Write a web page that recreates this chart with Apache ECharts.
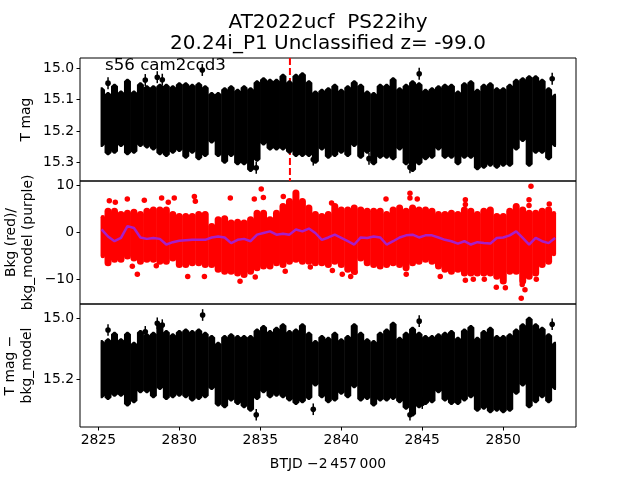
<!DOCTYPE html>
<html>
<head>
<meta charset="utf-8">
<style>html,body{margin:0;background:#fff}#chart{width:640px;height:480px}</style>
<script src="https://cdn.jsdelivr.net/npm/echarts@6/dist/echarts.min.js"></script>
</head>
<body>
<div id="chart"></div>
<script>
// the light curves hold thousands of overlapping points, so each panel is read off as an
// upper and lower edge per time bin, plus the stragglers that stand clear of the band
const times = [2825.2,2825.6,2826,2826.4,2826.8,2827.2,2827.6,2828,2828.4,2828.8,2829.2,2829.6,2830,2830.4,2830.8,2831.2,2831.6,2832,2832.4,2832.8,2833.2,2833.6,2834,2834.4,2834.8,2835.2,2835.6,2836,2836.4,2836.8,2837.2,2837.6,2838,2838.4,2838.8,2839.2,2839.6,2840,2840.4,2840.8,2841.2,2841.6,2842,2842.4,2842.8,2843.2,2843.6,2844,2844.4,2844.8,2845.2,2845.6,2846,2846.4,2846.8,2847.2,2847.6,2848,2848.4,2848.8,2849.2,2849.6,2850,2850.4,2850.8,2851.2,2851.6,2852,2852.4,2852.8,2853.2]

const magTop = [15.061,15.076,15.05,15.071,15.034,15.071,15.045,15.055,15.055,15.05,15.05,15.055,15.045,15.045,15.05,15.045,15.055,15.076,15.076,15.061,15.055,15.066,15.055,15.061,15.039,15.029,15.034,15.034,15.018,15.039,15.018,15.013,15.039,15.071,15.066,15.061,15.05,15.066,15.055,15.039,15.05,15.071,15.076,15.05,15.05,15.029,15.061,15.05,15.039,15.045,15.066,15.061,15.055,15.05,15.05,15.071,15.045,15.039,15.066,15.05,15.045,15.061,15.061,15.05,15.034,15.029,15.023,15.023,15.034,15.061,15.082]
const magLow = [15.251,15.277,15.272,15.251,15.277,15.272,15.251,15.256,15.262,15.277,15.283,15.272,15.267,15.288,15.272,15.293,15.283,15.24,15.283,15.304,15.283,15.309,15.309,15.33,15.298,15.246,15.262,15.262,15.262,15.272,15.283,15.283,15.283,15.304,15.262,15.288,15.283,15.272,15.283,15.251,15.288,15.272,15.309,15.288,15.288,15.293,15.262,15.309,15.33,15.309,15.293,15.288,15.262,15.288,15.288,15.309,15.288,15.288,15.325,15.32,15.314,15.32,15.314,15.314,15.262,15.235,15.314,15.272,15.272,15.293,15.251]
const magOutliers = [[2828.64,15.029],[2828.95,15.037],[2831.42,15.006],[2834.75,15.317],[2838.27,15.291],[2844.81,15.018],[2853.02,15.034],[2844.24,15.315],[2841.71,15.288],[2825.6,15.048],[2827.9,15.038]]

const bkgTop = [3.7,5.2,5.2,4.5,4.8,5,4.5,5.2,5.5,5.5,5.5,4.5,4.1,4.1,4.1,4.5,4.5,2,3.4,3.6,2.7,2.9,2.7,3.4,4.8,4.8,3.4,4.8,6.2,7.3,9.1,7.3,5.9,4.5,4.1,4.5,6.2,5.5,5.5,5.9,5.5,5.2,5.2,5.2,4.5,5.5,5.9,5.2,5.9,5.5,5.5,5.2,4.5,4.5,4.8,4.5,5.5,5.2,4.5,5.2,5.5,4.1,4.1,5.2,6.2,5.5,4.8,4.8,5.2,5.5,4.5]
const bkgLow = [-5.5,-7.2,-6.5,-6.5,-5.8,-6.2,-6.9,-6.5,-6.5,-6.9,-6.9,-6.2,-7.6,-7.6,-7.2,-7.2,-7.6,-7.6,-8.6,-9,-9,-9.4,-9.7,-9,-8.3,-7.9,-7.9,-7.2,-7.6,-6.9,-6.5,-6.9,-6.9,-7.2,-7.2,-7.6,-6.9,-7.6,-8.6,-9,-6.2,-7.2,-7.6,-7.9,-7.6,-7.2,-7.6,-8.3,-7.2,-6.9,-6.5,-6.9,-7.9,-8.6,-9,-8.6,-9.4,-9.4,-9.4,-9.4,-9.4,-10.1,-11.1,-9,-9,-11.1,-10.1,-9.4,-7.6,-6.9,-5.1]
const bkgOutliers = [[2825.68,6.7],[2826.05,6.4],[2826.79,7.1],[2827.84,6.8],[2828.91,7.3],[2829.69,7.3],[2829.32,6.4],[2830.93,7.6],[2830.99,6.6],[2833.15,7.3],[2834.63,7.1],[2835.06,9.2],[2835.19,7.4],[2836.42,7.6],[2827.41,-8.9],[2827.1,-7.2],[2828.58,-7.1],[2830.52,-9.4],[2831.55,-9.4],[2834.69,-9.5],[2833.75,-10.4],[2836.54,-8.3],[2838.09,-7.4],[2839.45,-8.1],[2839.4,6.2],[2844.24,8.3],[2844.24,7.3],[2844.69,7.1],[2842.76,7.1],[2847.66,6.9],[2847.66,5.9],[2851.71,9.8],[2851.59,6.9],[2851.59,5.7],[2852.84,6],[2840.06,-8.9],[2840.58,-9.4],[2840.85,-8.5],[2844.01,-8.9],[2846.11,-9.4],[2847.66,-10.2],[2848.15,-10],[2848.83,-10],[2849.57,-11.7],[2850.13,-11.8],[2851.11,-14],[2851.17,-11.1],[2851.34,-12.2],[2852.04,-10]]
const bkgModel = [0.6,-0.9,-1.9,-1.2,1.3,0.9,-1.1,-1.4,-1.2,-1.4,-2.6,-2.1,-1.8,-1.7,-1.6,-1.6,-1.6,-1.1,-0.9,-1.1,-2.3,-1.6,-1.4,-1.9,-0.5,-0.15,0.2,-0.5,-0.3,-0.5,0.6,0.2,0.8,-0.15,-1.6,-1.1,-0.5,-1.2,-1.9,-2.6,-1.1,-1.2,-0.9,-1.1,-2.6,-1.9,-1.1,-0.65,-0.5,-1.1,-0.65,-0.65,-1.1,-1.6,-1.9,-2.4,-1.9,-2.6,-2.1,-2.3,-2.4,-1.2,-1.1,-0.65,0.2,-1.2,-2.6,-1.2,-1.9,-2.3,-1.2]

const subTop = [15.072,15.066,15.045,15.066,15.045,15.077,15.039,15.05,15.045,15.017,15.039,15.05,15.039,15.034,15.039,15.034,15.045,15.055,15.077,15.055,15.05,15.055,15.055,15.055,15.034,15.023,15.039,15.028,15.017,15.039,15.034,15.017,15.045,15.072,15.055,15.061,15.045,15.066,15.055,15.017,15.045,15.066,15.072,15.045,15.034,15.012,15.061,15.045,15.028,15.045,15.055,15.055,15.05,15.045,15.039,15.061,15.034,15.023,15.061,15.039,15.028,15.055,15.055,15.05,15.034,15.017,14.996,15.017,15.028,15.05,15.077]
const subLow = [15.262,15.268,15.257,15.257,15.289,15.278,15.246,15.246,15.262,15.235,15.268,15.262,15.257,15.262,15.273,15.268,15.262,15.235,15.289,15.295,15.273,15.284,15.295,15.306,15.268,15.246,15.262,15.257,15.262,15.273,15.284,15.278,15.268,15.224,15.262,15.278,15.273,15.251,15.262,15.229,15.273,15.268,15.289,15.273,15.273,15.268,15.278,15.3,15.322,15.295,15.284,15.278,15.246,15.273,15.284,15.284,15.273,15.262,15.306,15.3,15.311,15.306,15.311,15.306,15.251,15.224,15.295,15.278,15.262,15.278,15.235]
const subOutliers = [[2831.44,14.99],[2828.64,15.017],[2828.95,15.023],[2834.75,15.316],[2838.27,15.298],[2825.6,15.039],[2827.9,15.045],[2844.81,15.01],[2853.02,15.02],[2844.24,15.316],[2845,15.278]]

const transitTime = [2836.83]
const xTicks = [2825,2830,2835,2840,2845,2850]
const magTicks = [15.0,15.1,15.2,15.3]
const bkgTicks = [-10,0,10]
const subTicks = [15.0,15.2]

const font = 'DejaVu Sans'
const magErr = 0.019

const band = (lows, tops) => times.map((t, i) => [t, lows[i], tops[i]])

// half widths of a column, the first and last stop short on their outer side
function columnSides(index) {
  return {
    left: index === 0 ? 1 : 3.5,
    right: index === times.length - 1 ? 1 : 3.5
  }
}

// black band, pointed ends like the error bar tips in the plot
function renderSpike(params, api) {
  const x = api.coord([api.value(0), api.value(1)])[0]
  const yLow = api.coord([api.value(0), api.value(1)])[1]
  const yTop = api.coord([api.value(0), api.value(2)])[1]
  const { left, right } = columnSides(params.dataIndex)
  return {
    type: 'polygon',
    shape: { points: [[x - left, yTop + 2.5], [x - 0.8, yTop], [x + 0.8, yTop], [x + right, yTop + 2.5], [x + right, yLow - 2.5], [x + 0.8, yLow], [x - 0.8, yLow], [x - left, yLow - 2.5]] },
    style: { fill: '#000' }
  }
}

// red band, round ends like the overlapping dots
function renderDots(params, api) {
  const x = api.coord([api.value(0), api.value(1)])[0]
  const yLow = api.coord([api.value(0), api.value(1)])[1]
  const yTop = api.coord([api.value(0), api.value(2)])[1]
  const { left, right } = columnSides(params.dataIndex)
  const w = left + right
  const mid = x + (right - left) / 2
  return {
    type: 'line',
    shape: { x1: mid, y1: yTop + w / 2, x2: mid, y2: yLow - w / 2 },
    style: { stroke: '#f00', lineWidth: w, lineCap: 'round' }
  }
}

function renderErrorPoint(params, api) {
  const t = api.value(0), m = api.value(1)
  const c = api.coord([t, m])
  const a = api.coord([t, m - magErr])
  const b = api.coord([t, m + magErr])
  return {
    type: 'group',
    children: [
      { type: 'line', shape: { x1: a[0], y1: a[1], x2: b[0], y2: b[1] }, style: { stroke: '#000', lineWidth: 1.5 } },
      { type: 'circle', shape: { cx: c[0], cy: c[1], r: 2.8 }, style: { fill: '#000' } }
    ]
  }
}

const tickLabel = { fontFamily: font, fontSize: 13.9, color: '#000' }
const tickLine = { show: true, length: 3.5, lineStyle: { color: '#000', width: 1 } }

function xAxisFor(gridIndex, showTicks) {
  const axis = {
    type: 'value', gridIndex, min: 2823.87, max: 2854.49,
    axisLine: { show: false }, splitLine: { show: false },
    axisTick: { show: false }, axisLabel: { show: false }
  }
  if (showTicks) {
    axis.axisTick = { ...tickLine, customValues: xTicks }
    axis.axisLabel = { ...tickLabel, margin: 6, customValues: xTicks, formatter: v => String(v) }
    axis.name = 'BTJD \u22122\u2009457\u2009000'
    axis.nameLocation = 'middle'
    axis.nameGap = 30
    axis.nameTextStyle = { fontFamily: font, fontSize: 13.9, color: '#000' }
  }
  return axis
}

function yAxisFor(gridIndex, min, max, inverse, ticks, fmt, name, nameGap) {
  return {
    type: 'value', gridIndex, min, max, inverse,
    axisLine: { show: false }, splitLine: { show: false },
    axisTick: { ...tickLine, customValues: ticks },
    axisLabel: { ...tickLabel, margin: 6, customValues: ticks, formatter: fmt },
    name, nameLocation: 'middle', nameRotate: 90, nameGap, nameMoveOverlap: false,
    nameTextStyle: { fontFamily: font, fontSize: 13.9, color: '#000', lineHeight: 17 }
  }
}

const gridBase = { left: 80, right: 64, height: 123, show: true, borderColor: '#000', borderWidth: 1, backgroundColor: 'transparent', outerBoundsMode: 'none' }

const chart = echarts.init(document.getElementById('chart'))
chart.setOption({
  animation: false,
  backgroundColor: '#fff',
  title: {
    text: 'AT2022ucf  PS22ihy\n20.24i_P1 Unclassified z= -99.0',
    left: 323, top: 7, textAlign: 'center',
    textStyle: { fontFamily: font, fontSize: 20, fontWeight: 'normal', color: '#000', lineHeight: 21 }
  },
  graphic: [{
    type: 'text', left: 105, top: 57, z: 20,
    style: { text: 's56 cam2ccd3', font: '16.67px "DejaVu Sans"', fill: '#000' }
  }],
  grid: [
    { ...gridBase, top: 58 },
    { ...gridBase, top: 181 },
    { ...gridBase, top: 304 }
  ],
  xAxis: [xAxisFor(0, false), xAxisFor(1, false), xAxisFor(2, true)],
  yAxis: [
    yAxisFor(0, 14.968, 15.359, true, magTicks, v => v.toFixed(1), 'T mag', 45),
    yAxisFor(1, -15.24, 10.9, false, bkgTicks, v => String(v).replace('-', '\u2212'), 'Bkg (red)/\nbkg_model (purple)', 43),
    yAxisFor(2, 14.954, 15.356, true, subTicks, v => v.toFixed(1), 'T mag \u2212\nbkg_model', 44)
  ],
  series: [
    {
      type: 'line', xAxisIndex: 0, yAxisIndex: 0, z: 1, symbol: 'none', silent: true,
      data: [[transitTime[0], 14.968], [transitTime[0], 15.359]],
      lineStyle: { color: '#f00', width: 2, type: [7, 3] }
    },
    { type: 'custom', xAxisIndex: 0, yAxisIndex: 0, z: 2, renderItem: renderSpike, data: band(magLow, magTop), encode: { x: 0, y: [1, 2] } },
    { type: 'custom', xAxisIndex: 0, yAxisIndex: 0, z: 3, renderItem: renderErrorPoint, data: magOutliers, encode: { x: 0, y: 1 } },
    { type: 'custom', xAxisIndex: 1, yAxisIndex: 1, z: 2, renderItem: renderDots, data: band(bkgLow, bkgTop), encode: { x: 0, y: [1, 2] } },
    {
      type: 'scatter', xAxisIndex: 1, yAxisIndex: 1, z: 2, symbolSize: 5.5, data: bkgOutliers,
      itemStyle: { color: '#f00', opacity: 1 }
    },
    {
      type: 'line', xAxisIndex: 1, yAxisIndex: 1, z: 4, symbol: 'none',
      data: times.map((t, i) => [t, bkgModel[i]]),
      lineStyle: { color: '#a61fc9', width: 2.5 }
    },
    { type: 'custom', xAxisIndex: 2, yAxisIndex: 2, z: 2, renderItem: renderSpike, data: band(subLow, subTop), encode: { x: 0, y: [1, 2] } },
    { type: 'custom', xAxisIndex: 2, yAxisIndex: 2, z: 3, renderItem: renderErrorPoint, data: subOutliers, encode: { x: 0, y: 1 } }
  ]
})
</script>
</body>
</html>
